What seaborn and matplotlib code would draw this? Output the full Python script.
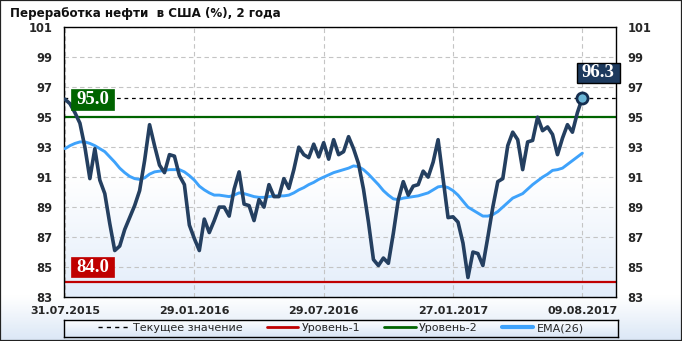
import numpy as np
import pandas as pd
import seaborn as sns
import matplotlib
matplotlib.use("Agg")
import matplotlib.pyplot as plt
from matplotlib.path import Path
from matplotlib.lines import Line2D
from matplotlib.patches import Rectangle
from matplotlib.colors import LinearSegmentedColormap

# ---------------- data ----------------
title = "Переработка нефти  в США (%), 2 года"

values = [
    96.2, 95.9, 95.3, 94.6, 93.0, 90.9, 92.9, 90.8, 89.9, 87.9,
    86.1, 86.4, 87.5, 88.3, 89.1, 90.1, 92.1, 94.5, 93.1, 91.8,
    91.3, 92.5, 92.4, 91.1, 90.5, 87.8, 86.9, 86.1, 88.2, 87.3,
    88.1, 89.0, 89.0, 88.4, 90.2, 91.35, 89.2, 89.1, 88.1, 89.5,
    89.0, 90.5, 89.7, 89.7, 90.9, 90.25, 91.5, 93.0, 92.5, 92.3,
    93.2, 92.35, 93.3, 92.2, 93.5, 92.5, 92.7, 93.7, 92.9, 91.9,
    90.2, 88.0, 85.5, 85.1, 85.6, 85.25, 87.25, 89.5, 90.7, 89.8,
    90.4, 90.5, 91.4, 91.0, 92.0, 93.5, 90.9, 88.3, 88.35, 88.0,
    86.6, 84.3, 86.0, 85.9, 85.1, 87.0, 89.0, 90.7, 90.9, 93.1,
    94.0, 93.5, 91.5, 93.35, 93.45, 95.0, 94.1, 94.35, 93.85, 92.5,
    93.6, 94.5, 94.0, 95.3, 96.3,
]

ema26 = [
    92.9, 93.1, 93.25, 93.35, 93.35, 93.25, 93.1, 92.9, 92.7, 92.35,
    92.0, 91.6, 91.3, 91.05, 90.9, 90.85, 90.95, 91.2, 91.35, 91.4,
    91.45, 91.5, 91.5, 91.5, 91.35, 91.1, 90.8, 90.4, 90.15, 89.95,
    89.8, 89.8, 89.75, 89.7, 89.8, 89.95, 89.9, 89.8, 89.7, 89.65,
    89.65, 89.7, 89.75, 89.75, 89.75, 89.8, 89.95, 90.15, 90.3, 90.5,
    90.65, 90.85, 91.0, 91.15, 91.3, 91.4, 91.5, 91.6, 91.75, 91.7,
    91.5, 91.2, 90.85, 90.5, 90.1, 89.8, 89.55, 89.5, 89.6, 89.65,
    89.7, 89.75, 89.85, 89.95, 90.15, 90.35, 90.4, 90.3, 90.1, 89.8,
    89.4, 89.0, 88.8, 88.6, 88.4, 88.4, 88.5, 88.7, 89.0, 89.3,
    89.6, 89.75, 89.9, 90.2, 90.5, 90.75, 91.0, 91.2, 91.45, 91.5,
    91.6, 91.85, 92.1, 92.35, 92.6,
]

tick_positions = [0, 26, 52, 78, 104]
tick_labels = ["31.07.2015", "29.01.2016", "29.07.2016", "27.01.2017", "09.08.2017"]
y_ticks = [83, 85, 87, 89, 91, 93, 95, 97, 99, 101]

level_1 = 84.0
level_2 = 95.0
current_value = values[-1]

legend_labels = ["Текущее значение", "Уровень-1", "Уровень-2", "EMA(26)"]

# ---------------- style ----------------
C_MAIN = "#243f60"
C_EMA = "#3ea2fb"
C_L1 = "#c00000"
C_L2 = "#006400"
C_CUR_BOX = "#1d3a5e"

sns.set_theme(style="white")
plt.rcParams["font.family"] = ["DejaVu Sans"]


class PadBox:
    """Rectangle box with separate horizontal / vertical padding (fraction of font size)."""

    def __init__(self, px, py):
        self.px, self.py = px, py

    def __call__(self, x0, y0, width, height, mutation_size):
        padx = self.px * mutation_size
        pady = self.py * mutation_size
        x0 -= padx
        y0 -= pady
        x1 = x0 + width + 2 * padx
        y1 = y0 + height + 2 * pady
        return Path([(x0, y0), (x1, y0), (x1, y1), (x0, y1), (x0, y0)],
                    [Path.MOVETO, Path.LINETO, Path.LINETO, Path.LINETO, Path.CLOSEPOLY])


W, H = 682, 341
fig = plt.figure(figsize=(W / 100, H / 100), dpi=100)
fig.patch.set_facecolor("white")

# vertical gradient: row 0 is drawn at the top
grad = np.linspace(0, 1, 256).reshape(-1, 1)

# figure background gradient (white -> light blue at the bottom)
bg = fig.add_axes([0, 0, 1, 1], zorder=-10)
bg_cmap = LinearSegmentedColormap.from_list(
    "bg", [(0, "#ffffff"), (0.87, "#ffffff"), (1.0, "#dbe7f6")])
bg.imshow(grad, aspect="auto", cmap=bg_cmap, extent=[0, 1, 0, 1], vmin=0, vmax=1)
bg.set_axis_off()

# main axes
ax = fig.add_axes([64 / W, 1 - 297 / H, (615.7 - 64) / W, (297 - 27.3) / H])
ax_cmap = LinearSegmentedColormap.from_list(
    "ax", [(0, "#ffffff"), (0.55, "#ffffff"), (1.0, "#e3edfa")])
ax.imshow(grad, aspect="auto", cmap=ax_cmap, extent=[0, 1, 0, 1],
          transform=ax.transAxes, vmin=0, vmax=1, zorder=0)

df = pd.DataFrame({"idx": np.arange(len(values)), "value": values, "ema": ema26})

ax.axhline(level_2, color=C_L2, lw=1.6, zorder=2)
ax.axhline(level_1, color=C_L1, lw=1.6, zorder=2)
ax.axhline(current_value, color="black", lw=0.9, ls=(0, (3, 3)), zorder=2)

sns.lineplot(data=df, x="idx", y="ema", color=C_EMA, lw=2.1, ax=ax, zorder=3)
sns.lineplot(data=df, x="idx", y="value", color=C_MAIN, lw=2.6, ax=ax, zorder=4)
ax.plot(df["idx"].iloc[-1], df["value"].iloc[-1], "o", ms=8, mfc="#6cb6d6",
        mec="#142d4f", mew=2, zorder=6, clip_on=False)

ax.set_xlim(-0.2, 110.7)
ax.set_ylim(83, 101)
ax.set_xticks(tick_positions)
ax.set_xticklabels(tick_labels)
ax.set_yticks(y_ticks)
ax.set_xlabel("")
ax.set_ylabel("")
ax.grid(True, color="#c4c4c4", ls=(0, (4, 3)), lw=0.8)
ax.set_axisbelow(True)
for sp in ax.spines.values():
    sp.set_visible(True)
    sp.set_color("black")
    sp.set_linewidth(1.0)
ax.tick_params(axis="y", length=0, pad=8.3, labelright=True, labelleft=True,
               labelsize=8.3)
ax.tick_params(axis="x", length=0, pad=6.2, labelsize=8)
for tk in ax.yaxis.get_major_ticks():
    tk.label1.set_fontweight("bold")
    tk.label2.set_fontweight("bold")
for tk in ax.xaxis.get_major_ticks():
    tk.label1.set_fontweight("bold")

# level labels
label_font = dict(fontsize=13.5, fontweight="bold", family=["Liberation Serif", "DejaVu Serif"],
                  color="white")
ax.annotate(f"{level_2:.1f}", xy=(0, level_2), xycoords=("axes fraction", "data"),
            xytext=(8.8, 12.7), textcoords="offset points", ha="left", va="center",
            bbox=dict(boxstyle=PadBox(0.28, 0.085), fc=C_L2, ec=C_L2, lw=0.5),
            zorder=7, **label_font)
ax.annotate(f"{level_1:.1f}", xy=(0, level_1), xycoords=("axes fraction", "data"),
            xytext=(8.8, 10.6), textcoords="offset points", ha="left", va="center",
            bbox=dict(boxstyle=PadBox(0.28, 0.085), fc=C_L1, ec=C_L1, lw=0.5),
            zorder=7, **label_font)
ax.annotate(f"{current_value:.1f}", xy=(df["idx"].iloc[-1], current_value),
            xytext=(11.5, 17.9), textcoords="offset points", ha="center", va="center",
            bbox=dict(boxstyle=PadBox(0.28, 0.085), fc=C_CUR_BOX, ec="black", lw=1),
            zorder=8, annotation_clip=False, **label_font)

# title
fig.text(10 / W, 1 - 13.5 / H, title, fontsize=8.6, fontweight="bold",
         ha="left", va="center", color="#111111")

# legend frame with gradient
lax = fig.add_axes([64 / W, 1 - 337 / H, 554 / W, 17.5 / H], zorder=1)
leg_cmap = LinearSegmentedColormap.from_list("lg", ["#ffffff", "#d9e6f6"])
lax.imshow(grad, aspect="auto", cmap=leg_cmap, extent=[0, 1, 0, 1], vmin=0, vmax=1)
lax.set_xticks([])
lax.set_yticks([])
for sp in lax.spines.values():
    sp.set_color("black")
    sp.set_linewidth(1.0)

handles = [
    Line2D([], [], color="black", lw=1, ls=(0, (3, 3))),
    Line2D([], [], color=C_L1, lw=2),
    Line2D([], [], color=C_L2, lw=2),
    Line2D([], [], color=C_EMA, lw=3),
]
leg = fig.legend(handles, legend_labels, loc="center",
                 bbox_to_anchor=(341 / W, 1 - 328.3 / H), ncol=4, frameon=False,
                 fontsize=8, handlelength=2.8, handletextpad=0.3, columnspacing=2.2)
leg.set_zorder(20)

# outer border
fig.patches.append(Rectangle((0, 0), 1, 1, transform=fig.transFigure, fill=False,
                             ec="#222222", lw=1.6, zorder=30))

fig.savefig("out.png", dpi=100)
